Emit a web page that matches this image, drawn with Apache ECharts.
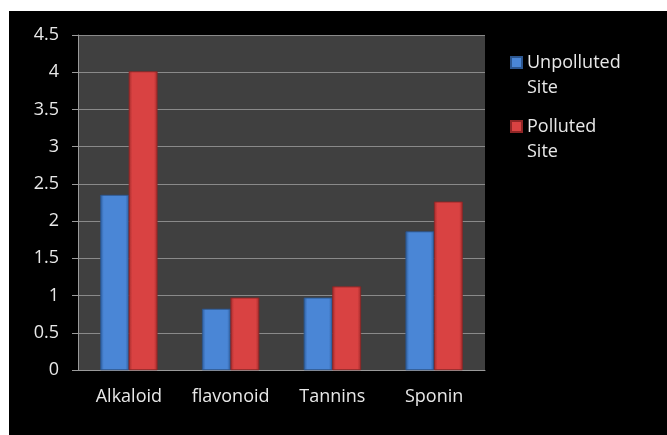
<!DOCTYPE html>
<html>
<head>
<meta charset="utf-8">
<script src="https://cdn.jsdelivr.net/npm/echarts@6/dist/echarts.min.js"></script>
<style>
  html, body { margin: 0; padding: 0; background: #fff; }
  #main { position: absolute; left: 9px; top: 11px; width: 658px; height: 424px; background: #000; }
</style>
</head>
<body>
<div id="main"></div>
<script>
var categories = ['Alkaloid', 'flavonoid', 'Tannins', 'Sponin'];
var unpolluted = [2.35, 0.82, 0.97, 1.86];
var polluted = [4.01, 0.97, 1.12, 2.26];
var seriesNames = ['Unpolluted Site', 'Polluted Site'];

var font = '"Open Sans", "Noto Sans", sans-serif';

let barGrad = (edge, mid)=> {
  return new echarts.graphic.LinearGradient(0, 0, 1, 0, [
    { offset: 0, color: edge },
    { offset: 0.12, color: mid },
    { offset: 0.88, color: mid },
    { offset: 1, color: edge }
  ]);
};

var myChart = echarts.init(document.getElementById('main'));

option = {
  backgroundColor: '#000',
  textStyle: { fontFamily: font },
  grid: {
    left: 69, right: 182, top: 24, bottom: 65,
    show: true, backgroundColor: '#404040', borderWidth: 0
  },
  legend: {
    orient: 'vertical',
    left: 501, top: 14,
    padding: 0,
    itemWidth: 11, itemHeight: 11,
    itemGap: -11,
    icon: 'rect',
    // empty first line so the icon sits beside the first text line
    formatter: function (name) { return ' \n' + name.replace(' ', '\n'); },
    textStyle: { color: '#e8e8e8', fontSize: 18, lineHeight: 25 },
    data: seriesNames
  },
  xAxis: {
    type: 'category',
    data: categories,
    axisLine: { lineStyle: { color: '#9a9a9a', width: 1 } },
    axisTick: { length: 7, lineStyle: { color: '#9a9a9a' } },
    axisLabel: { color: '#e8e8e8', fontSize: 18, margin: 18 }
  },
  yAxis: {
    type: 'value',
    min: 0, max: 4.5, interval: 0.5,
    axisLine: { show: true, lineStyle: { color: '#9a9a9a' } },
    axisTick: { show: true, length: 6, lineStyle: { color: '#9a9a9a' } },
    axisLabel: { color: '#e8e8e8', fontSize: 18, margin: 19 },
    splitLine: { lineStyle: { color: '#8a8a8a', width: 1 } }
  },
  series: [
    {
      name: seriesNames[0], type: 'bar', data: unpolluted,
      barWidth: '28%', barGap: '0%',
      itemStyle: { color: barGrad('#2f5e9e', '#4a86d6'), borderColor: '#2c568f', borderWidth: 0.5 }
    },
    {
      name: seriesNames[1], type: 'bar', data: polluted,
      barWidth: '28%', barGap: '0%',
      itemStyle: { color: barGrad('#a52c2c', '#d94242'), borderColor: '#8f2626', borderWidth: 0.5 }
    }
  ]
};

myChart.setOption(option);
</script>
</body>
</html>
